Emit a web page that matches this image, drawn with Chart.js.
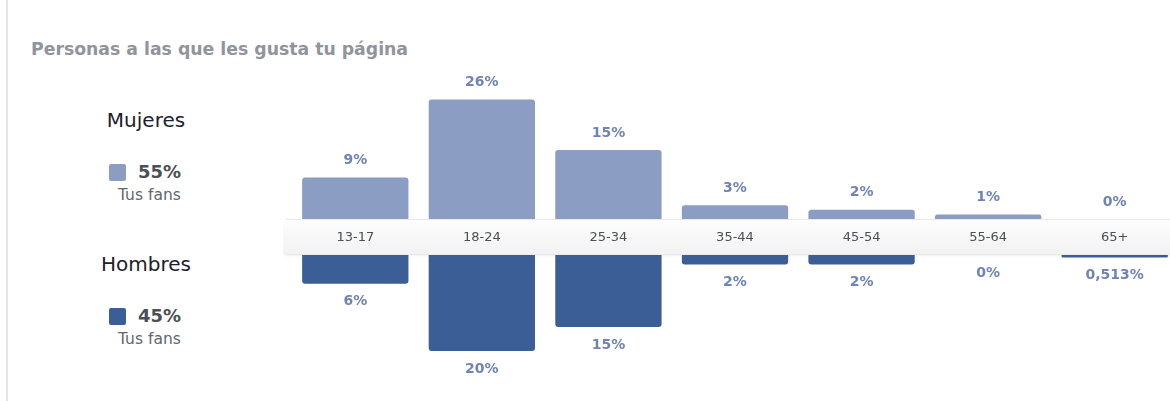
<!DOCTYPE html>
<html lang="es">
<head>
<meta charset="UTF-8">
<title>Personas a las que les gusta tu página</title>
<script src="https://cdn.jsdelivr.net/npm/chart.js"></script>
<style>
  body { margin: 0; width: 1170px; height: 401px; overflow: hidden; background: #fff; position: relative; font-family: "DejaVu Sans", sans-serif; }
  #frame { position: absolute; left: 6px; top: 0; width: 2px; height: 401px; background: #e4e6eb; }
  #title { position: absolute; left: 31px; top: 41px; font-size: 17.3px; line-height: 17px; font-weight: bold; color: #90949c; white-space: nowrap; }
  .gender { position: absolute; left: 86px; width: 120px; text-align: center; font-size: 20px; line-height: 20px; color: #1d2129; }
  .swatch { position: absolute; left: 109px; width: 17px; height: 17px; border-radius: 2px; }
  .share { position: absolute; left: 138px; font-size: 18px; line-height: 18px; font-weight: bold; color: #4b4f56; }
  .fans { position: absolute; left: 118px; font-size: 15.5px; line-height: 15px; color: #616770; white-space: nowrap; }
  canvas { position: absolute; }
  #women { left: 292px; top: 61px; }
  #men { left: 283px; top: 219px; }
</style>
</head>
<body>
<div id="frame"></div>
<div id="title">Personas a las que les gusta tu página</div>
<div id="legend"></div>
<canvas id="women" width="886" height="158"></canvas>
<canvas id="men" width="895" height="182"></canvas>
<script>
  const ageGroups = ["13-17", "18-24", "25-34", "35-44", "45-54", "55-64", "65+"];
  const womenPct = [9, 26, 15, 3, 2, 1, 0];
  const menPct = [6, 20, 15, 2, 2, 0, 0.513];
  const genders = ["Mujeres", "Hombres"];
  const genderShares = [55, 45];
  const fansLabel = "Tus fans";

  const colors = ["#8b9dc3", "#3b5e97"];
  const labelColor = "#6f83b5";

  function fmtPct(v) {
    return (Number.isInteger(v) ? String(v) : String(v).replace(".", ",")) + "%";
  }

  // left-hand legend: one block per gender
  const legendTops = [110, 254];
  const legend = document.getElementById("legend");
  genders.forEach((g, i) => {
    const top = legendTops[i];
    legend.insertAdjacentHTML(
      "beforeend",
      `<div class="gender" style="top:${top}px">${g}</div>` +
        `<div class="swatch" style="top:${top + 54}px;background:${colors[i]}"></div>` +
        `<div class="share" style="top:${top + 53}px">${genderShares[i]}%</div>` +
        `<div class="fans" style="top:${top + 78}px">${fansLabel}</div>`
    );
  });

  // percentage above / below each bar
  const valueLabels = {
    id: "valueLabels",
    afterDatasetsDraw(chart, args, opts) {
      const ctx = chart.ctx;
      const values = chart.data.datasets[0].data;
      ctx.save();
      ctx.font = 'bold 14px "DejaVu Sans"';
      ctx.fillStyle = labelColor;
      ctx.textAlign = "center";
      ctx.textBaseline = "middle";
      chart.getDatasetMeta(0).data.forEach((bar, i) => {
        const y = opts.below ? bar.y + 18 : bar.y - 17;
        ctx.fillText(fmtPct(values[i]), bar.x, y);
      });
      ctx.restore();
    },
  };

  // light strip that holds the age group labels
  const band = {
    id: "band",
    beforeDraw(chart) {
      const { ctx, width } = chart;
      const h = 36;
      const g = ctx.createLinearGradient(0, 0, 0, h);
      g.addColorStop(0, "#fdfdfd");
      g.addColorStop(1, "#f2f2f2");
      ctx.save();
      ctx.shadowColor = "rgba(0,0,0,0.08)";
      ctx.shadowBlur = 3;
      ctx.shadowOffsetY = 1;
      ctx.fillStyle = g;
      ctx.beginPath();
      ctx.roundRect(0, 0.5, width + 5, h - 1, [3, 0, 0, 3]);
      ctx.fill();
      ctx.shadowColor = "transparent";
      ctx.strokeStyle = "#e9e9e9";
      ctx.beginPath();
      ctx.moveTo(3, 0.5);
      ctx.lineTo(width, 0.5);
      ctx.moveTo(3, h - 0.5);
      ctx.lineTo(width, h - 0.5);
      ctx.stroke();
      ctx.restore();
    },
  };

  const barStyle = {
    categoryPercentage: 1,
    barPercentage: 0.84,
    borderRadius: 3,
    borderSkipped: "start",
  };

  new Chart(document.getElementById("women"), {
    type: "bar",
    data: {
      labels: ageGroups,
      datasets: [{ data: womenPct, backgroundColor: colors[0], ...barStyle }],
    },
    options: {
      responsive: false,
      devicePixelRatio: 1,
      animation: false,
      layout: { padding: { top: 20 } },
      plugins: { legend: { display: false }, tooltip: { enabled: false }, valueLabels: { below: false } },
      scales: {
        x: { display: false },
        y: { display: false, min: 0, max: 30 },
      },
    },
    plugins: [valueLabels],
  });

  new Chart(document.getElementById("men"), {
    type: "bar",
    data: {
      labels: ageGroups,
      datasets: [{ data: menPct, backgroundColor: colors[1], ...barStyle }],
    },
    options: {
      responsive: false,
      devicePixelRatio: 1,
      animation: false,
      layout: { padding: { left: 9, bottom: 26 } },
      plugins: { legend: { display: false }, tooltip: { enabled: false }, valueLabels: { below: true } },
      scales: {
        x: {
          position: "top",
          grid: { display: false, drawTicks: false },
          border: { display: false },
          ticks: { color: "#4b4f56", font: { family: "DejaVu Sans", size: 13 }, padding: 10 },
          afterFit(scale) {
            scale.height = 36;
          },
        },
        y: { display: false, reverse: true, min: 0, max: 25 },
      },
    },
    plugins: [band, valueLabels],
  });
</script>
</body>
</html>
